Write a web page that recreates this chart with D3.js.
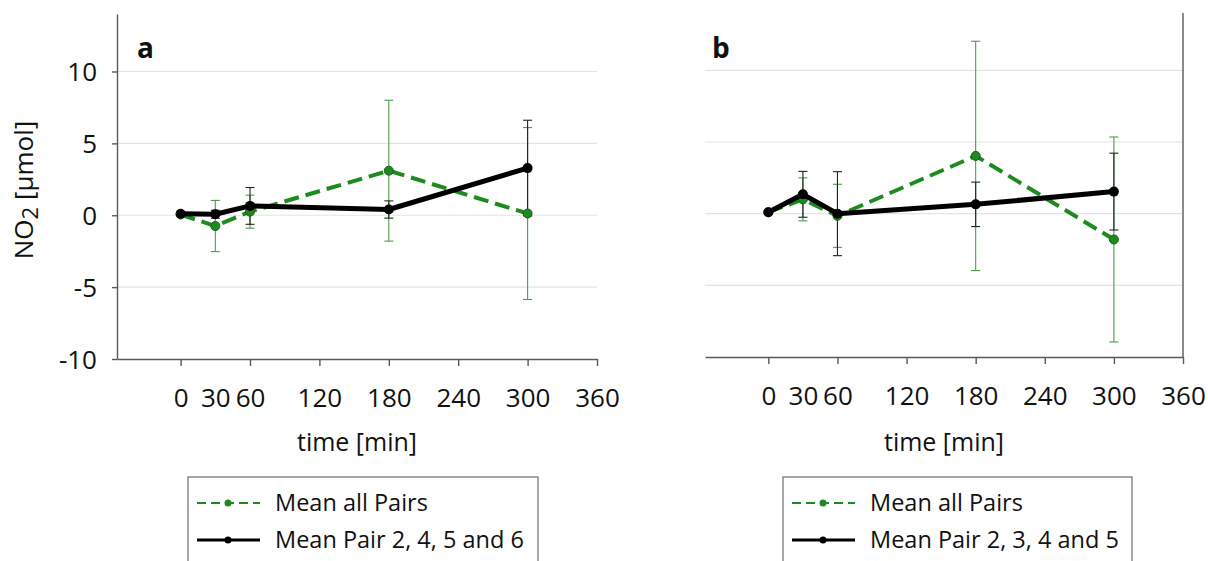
<!DOCTYPE html>
<html>
<head>
<meta charset="utf-8">
<script src="https://cdn.jsdelivr.net/npm/d3@7"></script>
<style>
  html, body { margin: 0; padding: 0; background: #fff; }
  svg { display: block; font-family: "Open Sans", "DejaVu Sans", sans-serif; }
</style>
</head>
<body>
<svg id="chart" width="1208" height="561"></svg>
<script>
// ---- data ----
const times = [0, 30, 60, 180, 300];
const xTickValues = [0, 30, 60, 120, 180, 240, 300, 360];
const yTickValues = [-10, -5, 0, 5, 10];
const seriesNames = ["Mean all Pairs"];

// panel a
const aAllMean  = [0.05, -0.75, 0.25, 3.1, 0.12];
const aAllSD    = [0, 1.78, 1.15, 4.9, 5.98];
const aPairMean = [0.1, 0.07, 0.65, 0.4, 3.28];
const aPairSD   = [0, 0.28, 1.28, 0.6, 3.33];
const aPairName = "Mean Pair 2, 4, 5 and 6";

// panel b
const bAllMean  = [0.1, 1.0, -0.15, 4.03, -1.8];
const bAllSD    = [0, 1.5, 2.2, 8.0, 7.15];
const bPairMean = [0.1, 1.35, 0.0, 0.65, 1.54];
const bPairSD   = [0, 1.6, 2.93, 1.55, 2.68];
const bPairName = "Mean Pair 2, 3, 4 and 5";

const panelLabels = ["a", "b"];
const xTitle = "time [min]";

// ---- styles ----
const GREEN = "#1f8a1f";
const GREEN_DARK = "#1a5e1a";
const GREEN_ERR = "#4f9a4f";
const AXIS = "#595959";
const GRID = "#e4e4e4";

const svg = d3.select("#chart");
const fmt = d => String(d);

function panel(cfg) {
  const x = d3.scaleLinear().domain([-55, 360]).range([cfg.x0, cfg.x1]);
  const y = d3.scaleLinear().domain([-10, 14]).range([cfg.yB, cfg.yT]);
  const g = svg.append("g");

  // gridlines
  g.selectAll("line.grid").data(yTickValues.filter(v => v > -10)).join("line")
    .attr("x1", cfg.x0).attr("x2", cfg.x1)
    .attr("y1", d => y(d)).attr("y2", d => y(d))
    .attr("stroke", GRID).attr("stroke-width", 1.2);

  // x axis
  const xAxis = d3.axisBottom(x).tickValues(xTickValues).tickSize(7).tickSizeOuter(0)
    .tickFormat(fmt);
  const xg = g.append("g").attr("transform", `translate(0,${cfg.yB})`).call(xAxis);
  xg.select(".domain").attr("stroke", AXIS).attr("stroke-width", 1.4);
  xg.selectAll(".tick line").attr("stroke", AXIS).attr("stroke-width", 1.4)
    .filter(d => d === 30).remove();
  xg.selectAll(".tick text").attr("y", 48).attr("dy", 0)
    .attr("font-size", 26).attr("fill", "#111")
    .attr("font-family", '"Open Sans", sans-serif');

  // x title
  g.append("text").attr("x", (cfg.x0 + cfg.x1) / 2).attr("y", 451)
    .attr("text-anchor", "middle").attr("font-size", 25).attr("fill", "#111")
    .text(xTitle);

  if (cfg.leftAxis) {
    const yAxis = d3.axisLeft(y).tickValues(yTickValues).tickSize(5).tickSizeOuter(0)
      .tickFormat(fmt);
    const yg = g.append("g").attr("transform", `translate(${cfg.x0},0)`).call(yAxis);
    yg.select(".domain").attr("stroke", AXIS).attr("stroke-width", 1.4);
    yg.selectAll(".tick line").attr("stroke", AXIS).attr("stroke-width", 1.4);
    yg.selectAll(".tick text").attr("x", -20).attr("dy", "0.36em")
      .attr("font-size", 26).attr("fill", "#111")
      .attr("font-family", '"Open Sans", sans-serif');
    const yl = g.append("text")
      .attr("transform", `translate(33,190) rotate(-90)`)
      .attr("text-anchor", "middle").attr("font-size", 26).attr("fill", "#111");
    yl.append("tspan").text("NO");
    yl.append("tspan").attr("dy", 5).attr("font-size", 22).text("2");
    yl.append("tspan").attr("dy", -5).text(" [µmol]");
  } else {
    g.append("line").attr("x1", cfg.x1).attr("x2", cfg.x1)
      .attr("y1", y(14)).attr("y2", cfg.yB)
      .attr("stroke", AXIS).attr("stroke-width", 1.4);
  }

  // panel letter
  g.append("text").attr("x", cfg.letterX).attr("y", 58)
    .attr("font-size", 28).attr("font-weight", "bold").attr("fill", "#111")
    .text(cfg.letter);

  // error bars
  function errBars(mean, sd, color, w) {
    const d = times.map((t, i) => ({ t, m: mean[i], s: sd[i] })).filter(d => d.s > 0);
    const eg = g.append("g").attr("stroke", color).attr("stroke-width", w);
    eg.selectAll("line.v").data(d).join("line")
      .attr("x1", d => x(d.t)).attr("x2", d => x(d.t))
      .attr("y1", d => y(d.m + d.s)).attr("y2", d => y(d.m - d.s));
    eg.selectAll("line.t").data(d).join("line")
      .attr("x1", d => x(d.t) - 4.5).attr("x2", d => x(d.t) + 4.5)
      .attr("y1", d => y(d.m + d.s)).attr("y2", d => y(d.m + d.s));
    eg.selectAll("line.b").data(d).join("line")
      .attr("x1", d => x(d.t) - 4.5).attr("x2", d => x(d.t) + 4.5)
      .attr("y1", d => y(d.m - d.s)).attr("y2", d => y(d.m - d.s));
  }
  errBars(cfg.allMean, cfg.allSD, GREEN_ERR, 1.1);
  errBars(cfg.pairMean, cfg.pairSD, "#222", 1.1);

  const line = d3.line().x(d => x(d[0])).y(d => y(d[1]));
  const allPts = times.map((t, i) => [t, cfg.allMean[i]]);
  const pairPts = times.map((t, i) => [t, cfg.pairMean[i]]);

  g.append("path").datum(allPts).attr("d", line).attr("fill", "none")
    .attr("stroke", GREEN).attr("stroke-width", 4).attr("stroke-dasharray", "15,7");
  g.selectAll("circle.ga").data(allPts).join("circle")
    .attr("cx", d => x(d[0])).attr("cy", d => y(d[1])).attr("r", 4.5)
    .attr("fill", GREEN).attr("stroke", GREEN_DARK).attr("stroke-width", 1);

  g.append("path").datum(pairPts).attr("d", line).attr("fill", "none")
    .attr("stroke", "#000").attr("stroke-width", 5).attr("stroke-linejoin", "round");
  g.selectAll("circle.bp").data(pairPts).join("circle")
    .attr("cx", d => x(d[0])).attr("cy", d => y(d[1])).attr("r", 5)
    .attr("fill", "#000");

  // legend
  const L = cfg.legend;
  const lg = svg.append("g");
  lg.append("rect").attr("x", L.x).attr("y", 477).attr("width", L.w).attr("height", 100)
    .attr("fill", "#fff").attr("stroke", "#6e6e6e").attr("stroke-width", 1.2);
  const rows = [
    { y: 503, name: seriesNames[0], dashed: true },
    { y: 540, name: cfg.pairName, dashed: false }
  ];
  rows.forEach(r => {
    lg.append("line").attr("x1", L.x + 9).attr("x2", L.x + 72)
      .attr("y1", r.y).attr("y2", r.y)
      .attr("stroke", r.dashed ? GREEN : "#000")
      .attr("stroke-width", r.dashed ? 2 : 3.2)
      .attr("stroke-dasharray", r.dashed ? "9,5" : null);
    lg.append("circle").attr("cx", L.x + 40).attr("cy", r.y).attr("r", 3.5)
      .attr("fill", r.dashed ? GREEN : "#000");
    lg.append("text").attr("x", L.x + 87).attr("y", r.y).attr("dy", "0.35em")
      .attr("font-size", 23.5).attr("fill", "#111").text(r.name);
  });
}

panel({ x0: 117, x1: 597, yT: 14, yB: 359, leftAxis: true, letter: panelLabels[0], letterX: 137,
  allMean: aAllMean, allSD: aAllSD, pairMean: aPairMean, pairSD: aPairSD, pairName: aPairName,
  legend: { x: 188, w: 350 } });
panel({ x0: 705, x1: 1183, yT: 13, yB: 357, leftAxis: false, letter: panelLabels[1], letterX: 712,
  allMean: bAllMean, allSD: bAllSD, pairMean: bPairMean, pairSD: bPairSD, pairName: bPairName,
  legend: { x: 783, w: 349 } });
</script>
</body>
</html>
